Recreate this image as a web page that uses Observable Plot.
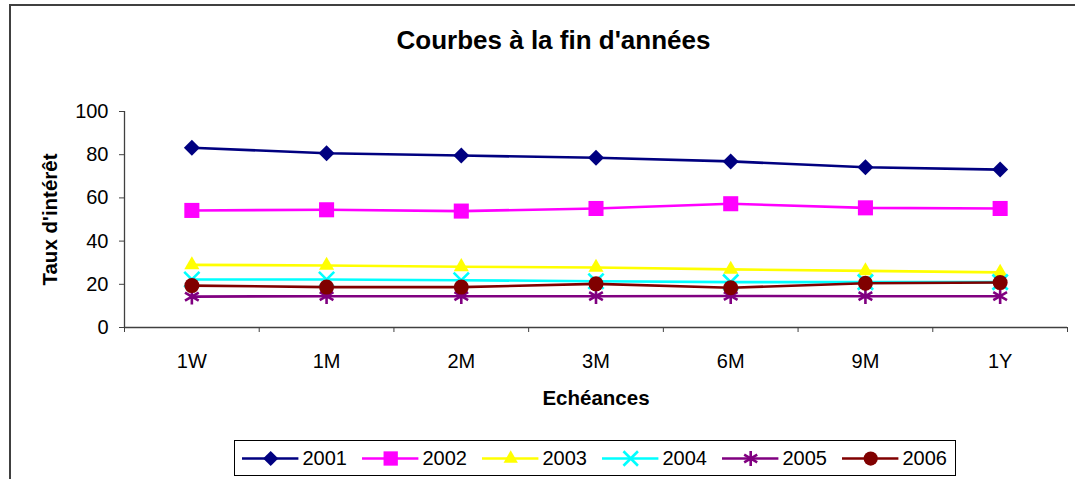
<!DOCTYPE html>
<html><head><meta charset="utf-8">
<script src="https://cdn.jsdelivr.net/npm/d3@7"></script>
<script src="https://cdn.jsdelivr.net/npm/@observablehq/plot@0.6"></script>
<style>
body{margin:0;background:#fff;font-family:"Liberation Sans",Arial,sans-serif;}
#wrap{position:relative;width:1075px;height:479px;overflow:hidden;background:#fff;}
#frame{position:absolute;left:9px;top:4px;width:1100px;height:520px;border:2px solid #404040;}
#title{position:absolute;left:0;top:25px;width:1107px;text-align:center;font-weight:bold;font-size:26px;line-height:30px;color:#000;}
#chart{position:absolute;left:0;top:0;}
#legend{position:absolute;left:234px;top:440px;width:720px;height:34px;border:1.5px solid #000;background:#fff;}
#legend svg, #chart svg{display:block;}
</style></head>
<body><div id="wrap"><div id="frame"></div><div id="title">Courbes à la fin d'années</div><div id="chart"></div><div id="legend"></div></div>
<script>
// ---- data ----
const categories = ["1W", "1M", "2M", "3M", "6M", "9M", "1Y"];
const years = ["2001", "2002", "2003", "2004", "2005", "2006"];
const s2001 = [83.2, 80.7, 79.6, 78.6, 76.9, 74.2, 73.1];
const s2002 = [54.2, 54.5, 53.9, 55.1, 57.3, 55.4, 55.1];
const s2003 = [29.0, 28.7, 28.1, 27.8, 26.9, 26.2, 25.5];
const s2004 = [22.2, 22.2, 21.9, 21.4, 21.0, 21.0, 21.0];
const s2005 = [14.3, 14.5, 14.5, 14.5, 14.6, 14.5, 14.5];
const s2006 = [19.4, 18.7, 18.7, 20.2, 18.4, 20.5, 20.8];
const yTicks = [0, 20, 40, 60, 80, 100];
const yLabel = "Taux d'intérêt";
const xLabel = "Echéances";

// ---- styles ----
const style = {
  "2001": {color: "#000080", symbol: "diamond2", r: 7.2, filled: true},
  "2002": {color: "#FF00FF", symbol: "square", r: 8.5, filled: true},
  "2003": {color: "#FFFF00", symbol: "triangle", r: 5.6, filled: true},
  "2004": {color: "#00FFFF", symbol: "times", r: 7, filled: false},
  "2005": {color: "#800080", symbol: "asterisk", r: 7.5, filled: false},
  "2006": {color: "#800000", symbol: "circle", r: 7.5, filled: true}
};

const seriesValues = [s2001, s2002, s2003, s2004, s2005, s2006];
const rows = seriesValues.flatMap((vals, k) =>
  vals.map((v, i) => ({year: years[k], cat: categories[i], idx: i + 0.5, v})));

const FONT = '"Liberation Sans", Arial, sans-serif';

function seriesMarks(data, xKey, yKey, st) {
  return [
    Plot.line(data, {x: xKey, y: yKey, stroke: st.color, strokeWidth: 2.6}),
    Plot.dot(data, st.filled
      ? {x: xKey, y: yKey, symbol: () => st.symbol, r: st.r, fill: st.color, stroke: "none"}
      : {x: xKey, y: yKey, symbol: () => st.symbol, r: st.r, fill: "none", stroke: st.color, strokeWidth: 2.6})
  ];
}

const marks = [];
marks.push(Plot.ruleX([0], {stroke: "#404040", strokeWidth: 1.3}));
marks.push(Plot.ruleY([0], {stroke: "#404040", strokeWidth: 1.3}));
marks.push(Plot.axisY({ticks: yTicks, tickSize: 5, tickPadding: 11, label: null, stroke: "#404040", fontSize: 20}));
marks.push(Plot.axisX({ticks: d3.range(0, categories.length + 1), tickFormat: () => "", tickSize: 5, label: null, stroke: "#404040"}));
marks.push(Plot.axisX({ticks: categories.map((c, i) => i + 0.5), tickFormat: d => categories[Math.floor(d)], tickSize: 0, tickPadding: 26, label: null, fontSize: 20}));
for (const y of years) {
  const data = rows.filter(d => d.year === y);
  marks.push(...seriesMarks(data, "idx", "v", style[y]));
}
marks.push(Plot.text([xLabel], {frameAnchor: "bottom", dy: 71, text: d => d, fontWeight: "bold", fontSize: 20.5, lineAnchor: "middle", textAnchor: "middle"}));
marks.push(Plot.text([yLabel], {frameAnchor: "left", dx: -74, rotate: -90, text: d => d, fontWeight: "bold", fontSize: 20.5, lineAnchor: "middle", textAnchor: "middle"}));

const chart = Plot.plot({
  width: 1075,
  height: 430,
  marginLeft: 124,
  marginRight: 8,
  marginTop: 111,
  marginBottom: 103,
  x: {type: "linear", domain: [0, categories.length], axis: null},
  y: {type: "linear", domain: [0, 100], axis: null},
  style: {fontFamily: FONT, fontSize: "20px", color: "#000", background: "transparent", overflow: "visible"},
  marks
});
document.getElementById("chart").appendChild(chart);

// ---- legend ----
const legendRows = years.map((y, i) => ({year: y, i}));
const lmarks = [];
for (const r of legendRows) {
  const st = style[r.year];
  lmarks.push(Plot.ruleY([r], {y: () => 0.5, x1: d => d.i, x2: d => d.i + 0.47, stroke: st.color, strokeWidth: 2.6}));
  lmarks.push(Plot.dot([r], st.filled
    ? {x: d => d.i + 0.235, y: () => 0.5, symbol: () => st.symbol, r: st.r * 0.95, fill: st.color, stroke: "none"}
    : {x: d => d.i + 0.235, y: () => 0.5, symbol: () => st.symbol, r: st.r * 0.95, fill: "none", stroke: st.color, strokeWidth: 2.6}));
}
lmarks.push(Plot.text(legendRows, {x: d => d.i + 0.5, y: () => 0.5, text: "year", textAnchor: "start", lineAnchor: "middle", fontSize: 20}));
const legend = Plot.plot({
  width: 720,
  height: 34,
  marginLeft: 7,
  marginRight: -7,
  marginTop: 0,
  marginBottom: 0,
  x: {type: "linear", domain: [0, years.length], axis: null},
  y: {type: "linear", domain: [0, 1], axis: null},
  style: {fontFamily: FONT, fontSize: "20px", color: "#000", background: "transparent", overflow: "visible"},
  marks: lmarks
});
document.getElementById("legend").appendChild(legend);
</script>
</body></html>
